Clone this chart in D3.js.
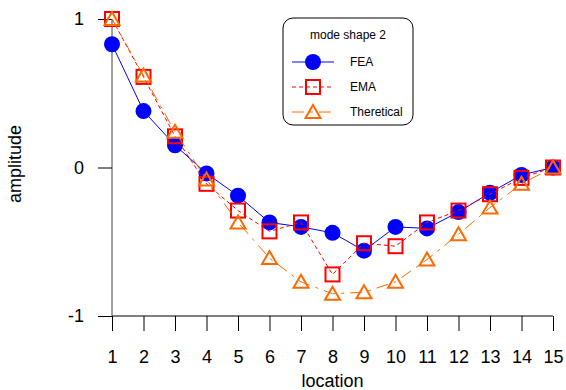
<!DOCTYPE html>
<html>
<head>
<meta charset="utf-8">
<script src="https://cdn.jsdelivr.net/npm/d3@7"></script>
<style>
  body { margin: 0; background: #fff; }
  text { font-family: "Liberation Sans", Arial, sans-serif; }
</style>
</head>
<body>
<svg id="chart"></svg>
<script>
// Data
const locations = [1, 2, 3, 4, 5, 6, 7, 8, 9, 10, 11, 12, 13, 14, 15];
const feaValues = [0.83, 0.38, 0.15, -0.04, -0.19, -0.37, -0.40, -0.44, -0.56, -0.40, -0.41, -0.30, -0.17, -0.05, 0.0];
const emaValues = [1.0, 0.61, 0.21, -0.11, -0.29, -0.43, -0.37, -0.72, -0.51, -0.53, -0.37, -0.29, -0.18, -0.07, 0.0];
const theoValues = [1.0, 0.62, 0.24, -0.08, -0.37, -0.61, -0.77, -0.85, -0.84, -0.77, -0.62, -0.45, -0.27, -0.11, 0.0];
const yTicks = [-1, 0, 1];
const legendTitle = "mode shape 2";
const seriesNames = ["FEA", "EMA", "Theretical"];

const width = 566;
const height = 390;

const svg = d3.select("#chart")
  .attr("width", width)
  .attr("height", height);

// Scales
const xScale = d3.scaleLinear().domain([1, 15]).range([112, 553]);
const yScale = d3.scaleLinear().domain([-1, 1]).range([316, 19]);

// x-axis
const xAxis = svg.append("g")
  .attr("transform", "translate(0," + yScale(-1) + ")")
  .call(d3.axisBottom(xScale).tickValues(locations).tickSize(15).tickPadding(19).tickFormat((d) => String(d)));
xAxis.select(".domain").attr("d", "M" + xScale(1) + ",0H" + xScale(15)).attr("stroke", "#000");
xAxis.selectAll(".tick line").attr("stroke", "#000");
xAxis.selectAll(".tick text").attr("font-size", 18).attr("fill", "#000");

// y-axis
const yAxis = svg.append("g")
  .attr("transform", "translate(" + xScale(1) + ",0)")
  .call(d3.axisLeft(yScale).tickValues(yTicks).tickSize(14).tickPadding(14).tickFormat((d) => String(d)));
yAxis.select(".domain").attr("d", "M0," + yScale(1) + "V" + yScale(-1)).attr("stroke", "#444");
yAxis.selectAll(".tick line").attr("stroke", "#000");
yAxis.selectAll(".tick text").attr("font-size", 18).attr("fill", "#000");

// Axis labels
svg.append("text")
  .attr("x", (xScale(1) + xScale(15)) / 2)
  .attr("y", 387)
  .attr("text-anchor", "middle")
  .attr("font-size", 18)
  .text("location");

svg.append("text")
  .attr("transform", "translate(21,164) rotate(-90)")
  .attr("text-anchor", "middle")
  .attr("font-size", 18)
  .text("amplitude");

// Series definitions
const series = [
  { name: seriesNames[0], values: feaValues, color: "#0000ff", dash: null, marker: "circle" },
  { name: seriesNames[1], values: emaValues, color: "#ff0000", dash: "4,3", marker: "square" },
  { name: seriesNames[2], values: theoValues, color: "#ff6a00", dash: "12,6,3,6", marker: "triangle" }
];

const line = d3.line()
  .x((d, i) => xScale(locations[i]))
  .y((d) => yScale(d));

function drawMarker(g, type, color) {
  if (type === "circle") {
    g.append("circle").attr("r", 8).attr("fill", color);
  } else if (type === "square") {
    g.append("rect")
      .attr("x", -7).attr("y", -7)
      .attr("width", 14).attr("height", 14)
      .attr("fill", "none")
      .attr("stroke", color)
      .attr("stroke-width", 2);
  } else {
    g.append("path")
      .attr("d", "M0,-7L7.5,6L-7.5,6Z")
      .attr("fill", "none")
      .attr("stroke", color)
      .attr("stroke-width", 2);
  }
}

series.forEach((s) => {
  svg.append("path")
    .datum(s.values)
    .attr("d", line)
    .attr("fill", "none")
    .attr("stroke", s.color)
    .attr("stroke-width", 1)
    .attr("stroke-dasharray", s.dash);

  svg.selectAll(".m-" + s.marker)
    .data(s.values)
    .enter()
    .append("g")
    .attr("class", "m-" + s.marker)
    .attr("transform", (d, i) => "translate(" + xScale(locations[i]) + "," + yScale(d) + ")")
    .each(function () { drawMarker(d3.select(this), s.marker, s.color); });
});

// Legend
const legend = svg.append("g").attr("transform", "translate(283,18)");
legend.append("rect")
  .attr("width", 130)
  .attr("height", 107)
  .attr("rx", 10)
  .attr("fill", "#fff")
  .attr("stroke", "#000");
legend.append("text")
  .attr("x", 65)
  .attr("y", 21)
  .attr("text-anchor", "middle")
  .attr("font-size", 12)
  .text(legendTitle);

series.forEach((s, i) => {
  const row = legend.append("g").attr("transform", "translate(0," + (44 + i * 25) + ")");
  row.append("line")
    .attr("x1", 9).attr("x2", 51)
    .attr("stroke", s.color)
    .attr("stroke-dasharray", s.dash);
  const m = row.append("g").attr("transform", "translate(30,0)");
  drawMarker(m, s.marker, s.color);
  row.append("text")
    .attr("x", 67)
    .attr("y", 4)
    .attr("font-size", 12)
    .text(s.name);
});
</script>
</body>
</html>
